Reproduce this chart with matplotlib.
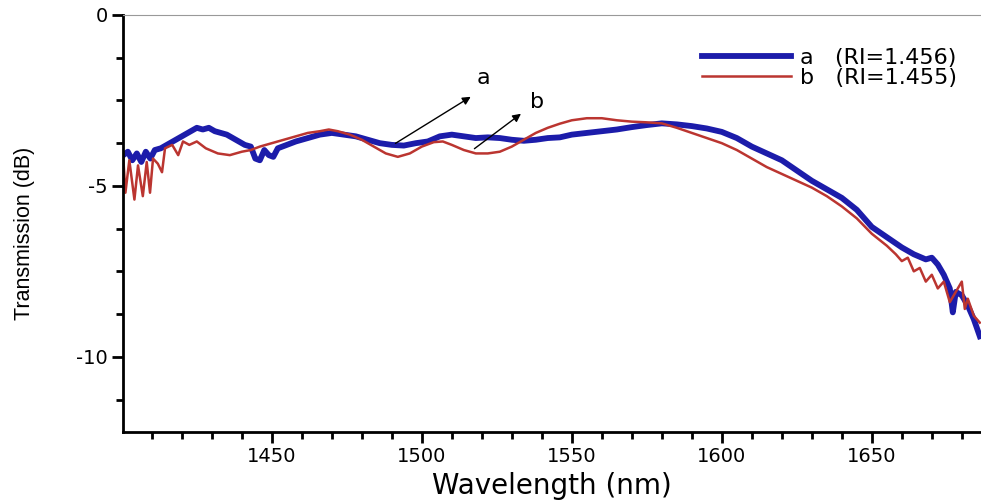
import matplotlib
matplotlib.use("Agg")
import matplotlib.pyplot as plt

plt.rcParams["axes.unicode_minus"] = False

# transmission spectra
wl_a = [1400.5, 1402, 1403.5, 1405, 1406.5, 1408, 1409.5, 1411, 1413, 1415, 1417, 1419,
        1421, 1423, 1425, 1427, 1429, 1431, 1433, 1435, 1437, 1439, 1441, 1443, 1444.5,
        1446, 1447.5, 1449, 1450.5, 1452, 1455, 1458, 1462, 1466, 1470, 1474, 1478, 1482,
        1486, 1490, 1494, 1498, 1502, 1506, 1510, 1514, 1518, 1522, 1526, 1530, 1534,
        1538, 1542, 1546, 1550, 1555, 1560, 1565, 1570, 1575, 1580, 1585, 1590, 1595,
        1600, 1605, 1610, 1615, 1620, 1625, 1630, 1635, 1640, 1645, 1650, 1655, 1660,
        1664, 1668, 1670, 1672, 1674, 1676, 1677, 1678, 1680, 1682, 1684, 1686]
t_a = [-4.1, -4.0, -4.25, -4.05, -4.3, -4.0, -4.2, -3.95, -3.9, -3.8, -3.7, -3.6,
       -3.5, -3.4, -3.3, -3.35, -3.3, -3.4, -3.45, -3.5, -3.6, -3.7, -3.8, -3.85, -4.2,
       -4.25, -3.95, -4.1, -4.15, -3.9, -3.8, -3.7, -3.6, -3.5, -3.45, -3.5, -3.55, -3.65,
       -3.75, -3.8, -3.82, -3.75, -3.7, -3.55, -3.5, -3.55, -3.6, -3.58, -3.6, -3.65, -3.68,
       -3.65, -3.6, -3.58, -3.5, -3.45, -3.4, -3.35, -3.28, -3.22, -3.17, -3.2, -3.25, -3.32,
       -3.42, -3.6, -3.85, -4.05, -4.25, -4.55, -4.85, -5.1, -5.35, -5.7, -6.2, -6.5, -6.8,
       -7.0, -7.15, -7.1, -7.3, -7.6, -8.0, -8.7, -8.1, -8.2, -8.5, -8.9, -9.4]

wl_b = [1400.5, 1401.2, 1402.5, 1404.2, 1405.4, 1407, 1408.3, 1409.4, 1410.4, 1412, 1413.4,
        1414.4, 1416.8, 1418.8, 1420.4, 1422.5, 1425, 1428, 1432, 1436, 1440, 1443, 1446,
        1450, 1454, 1458, 1462, 1466, 1469, 1472, 1476, 1480, 1484, 1488, 1492, 1496, 1500,
        1504, 1507, 1510, 1514, 1518, 1522, 1526, 1530, 1534, 1538, 1542, 1546, 1550, 1555,
        1560, 1565, 1570, 1575, 1580, 1585, 1590, 1595, 1600, 1605, 1610, 1615, 1620, 1625,
        1630, 1635, 1640, 1645, 1650, 1655, 1658, 1660, 1662, 1664, 1666, 1668, 1670, 1672,
        1674, 1676, 1678, 1680, 1681, 1682, 1684, 1686]
t_b = [-4.2, -5.2, -4.25, -5.4, -4.4, -5.3, -4.3, -5.2, -4.2, -4.35, -4.6,
       -3.9, -3.8, -4.1, -3.7, -3.8, -3.7, -3.9, -4.05, -4.1, -4.0, -3.95, -3.85,
       -3.75, -3.65, -3.55, -3.45, -3.4, -3.35, -3.4, -3.5, -3.65, -3.85, -4.05, -4.15, -4.05, -3.85,
       -3.72, -3.7, -3.8, -3.95, -4.05, -4.05, -4.0, -3.85, -3.65, -3.45, -3.3, -3.18, -3.08, -3.02,
       -3.02, -3.08, -3.12, -3.14, -3.17, -3.3, -3.45, -3.6, -3.75, -3.95, -4.2, -4.45, -4.65, -4.85,
       -5.05, -5.3, -5.6, -5.95, -6.4, -6.75, -7.0, -7.2, -7.1, -7.5, -7.4, -7.8, -7.6, -8.0,
       -7.8, -8.4, -8.1, -7.8, -8.6, -8.3, -8.8, -9.0]

label_a = "a   (RI=1.456)"
label_b = "b   (RI=1.455)"

fig = plt.figure(figsize=(9.81, 5.0), dpi=100)
ax = fig.add_axes([0.1254, 0.136, 0.8746, 0.834])

ax.plot(wl_a, t_a, color="#1c1caa", lw=4.2, label=label_a)
ax.plot(wl_b, t_b, color="#bb3530", lw=1.8, label=label_b)

ax.set_xlim(1400.4, 1686.4)
ax.set_ylim(-12.2, 0)
ax.set_xticks([1450, 1500, 1550, 1600, 1650])
ax.set_xticks(range(1410, 1690, 10), minor=True)
ax.set_yticks([0, -5, -10])
ax.set_yticks([-1.25, -2.5, -3.75, -6.25, -7.5, -8.75, -11.25], minor=True)

for s in ["left", "bottom"]:
    ax.spines[s].set_linewidth(2)
ax.spines["right"].set_visible(False)
ax.spines["top"].set_color("#999999")
ax.spines["top"].set_linewidth(0.8)

ax.tick_params(which="major", direction="out", length=8, width=2, labelsize=14, pad=3)
ax.tick_params(which="minor", direction="out", length=5, width=2)
for lab in ax.get_xticklabels() + ax.get_yticklabels():
    lab.set_family("DejaVu Sans")

ax.set_xlabel("Wavelength (nm)", family="DejaVu Sans", fontsize=20, labelpad=4)
ax.set_ylabel("Transmission (dB)", family="Liberation Sans", fontsize=15.5)
ax.yaxis.set_label_coords(-0.103, 0.477)

arrow = dict(arrowstyle="-|>", color="black", lw=1, mutation_scale=12)
ax.annotate("", xy=(1517.1, -2.35), xytext=(1490.4, -3.8), arrowprops=arrow)
ax.annotate("", xy=(1533.8, -2.84), xytext=(1516.8, -3.96), arrowprops=arrow)
ax.text(1520.4, -1.85, "a", fontsize=16, ha="center", va="center")
ax.text(1538.4, -2.55, "b", fontsize=16, ha="center", va="center")

ax.legend(loc="upper right", bbox_to_anchor=(0.995, 0.97), frameon=False,
          fontsize=16, handlelength=4.0, handletextpad=0.4, labelspacing=0.0)

fig.savefig("out.png", dpi=100)
